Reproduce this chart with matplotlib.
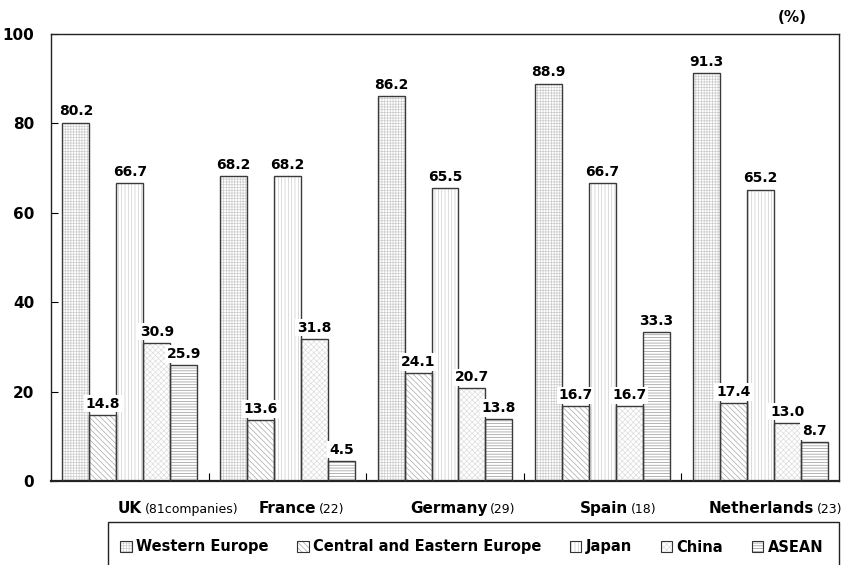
import matplotlib
matplotlib.use("Agg")
import matplotlib.pyplot as plt
from matplotlib.patches import Patch, Rectangle
import matplotlib.transforms as mtransforms
import numpy as np

plt.rcParams['font.family'] = ['DejaVu Sans']
plt.rcParams['hatch.linewidth'] = 0.5

# ---- data ----
categories = ['UK', 'France', 'Germany', 'Spain', 'Netherlands']
counts = ['(81companies)', '(22)', '(29)', '(18)', '(23)']
series_names = ['Western Europe', 'Central and Eastern Europe', 'Japan', 'China', 'ASEAN']
western_europe = [80.2, 68.2, 86.2, 88.9, 91.3]
central_eastern_europe = [14.8, 13.6, 24.1, 16.7, 17.4]
japan = [66.7, 68.2, 65.5, 66.7, 65.2]
china = [30.9, 31.8, 20.7, 16.7, 13.0]
asean = [25.9, 4.5, 13.8, 33.3, 8.7]
yticks = [0, 20, 40, 60, 80, 100]

# ---- styles ----
series = [western_europe, central_eastern_europe, japan, china, asean]
hatches = ['++++++', '\\\\\\\\\\\\', '|||||', 'xxxxxx', '------']
hatch_colors = ['#cccccc', '#a8a8a8', '#cccccc', '#dddddd', '#959595']
label_x = [-0.075, 0.820, 1.778, 2.857, 3.675]  # layout positions of category labels

fig = plt.figure(figsize=(8.46, 5.65), dpi=100)
ax = fig.add_axes([51/846, 1-481/565, 788/846, 447/565])

x = np.arange(len(categories))
width = 0.171
n = len(series)
for i, vals in enumerate(series):
    pos = x + (i - (n-1)/2) * width
    ax.bar(pos, vals, width, color='white', edgecolor=hatch_colors[i],
           hatch=hatches[i], linewidth=0, zorder=2)
    ax.bar(pos, vals, width, fill=False, edgecolor='#3a3a3a', linewidth=1.0, zorder=3)
    for px, v in zip(pos, vals):
        ax.annotate(f'{v:.1f}', xy=(px, v), xytext=(0, 3), textcoords='offset points',
                    ha='center', va='bottom', fontsize=10, fontweight='bold',
                    bbox=dict(facecolor='white', edgecolor='none', pad=1.2), zorder=5)

ax.set_xlim(-0.5, len(categories) - 0.5)
ax.set_ylim(0, 100)
ax.set_yticks(yticks)
ax.set_yticklabels([str(t) for t in yticks], fontsize=11, fontweight='bold')
ax.set_xticks(x[:-1] + 0.5)
ax.set_xticklabels([])
ax.tick_params(axis='y', direction='in', length=5, pad=12)
ax.tick_params(axis='x', direction='in', length=6)
for sp in ax.spines.values():
    sp.set_linewidth(1.0)
    sp.set_color('#222222')
ax.spines['bottom'].set_linewidth(1.6)

# category labels
trans = mtransforms.blended_transform_factory(ax.transData, ax.transAxes)
y_lab = -0.0716
for lx, name, cnt in zip(label_x, categories, counts):
    t = ax.text(lx, y_lab, name, transform=trans, ha='left', va='baseline',
                fontsize=11, fontweight='bold')
    ax.annotate(cnt, xy=(1, y_lab), xycoords=(t, 'axes fraction'),
                xytext=(2, 0), textcoords='offset points',
                ha='left', va='baseline', fontsize=9)

# (%) label
fig.text(792/846, 1-17/565, '(%)', ha='center', va='center', fontsize=11, fontweight='bold')

# legend box
fig.patches.append(Rectangle((108/846, -0.05), (839-108)/846, 0.05 + (565-522)/565,
                             transform=fig.transFigure, fill=False,
                             edgecolor='#222222', linewidth=1.0, clip_on=False))
handles = []
for i in range(n):
    h1 = Patch(facecolor='white', edgecolor=hatch_colors[i], hatch=hatches[i], linewidth=0)
    h2 = Patch(fill=False, edgecolor='#333333', linewidth=0.8)
    handles.append((h1, h2))
leg = fig.legend(handles, series_names, loc='center left',
                 bbox_to_anchor=(120/846, 1-547/565), ncol=5, frameon=False,
                 handlelength=0.8, handleheight=0.8, handletextpad=0.3,
                 columnspacing=1.95, borderaxespad=0, borderpad=0,
                 prop=dict(size=10.5, weight='bold'))

fig.savefig('out.png', dpi=100)
